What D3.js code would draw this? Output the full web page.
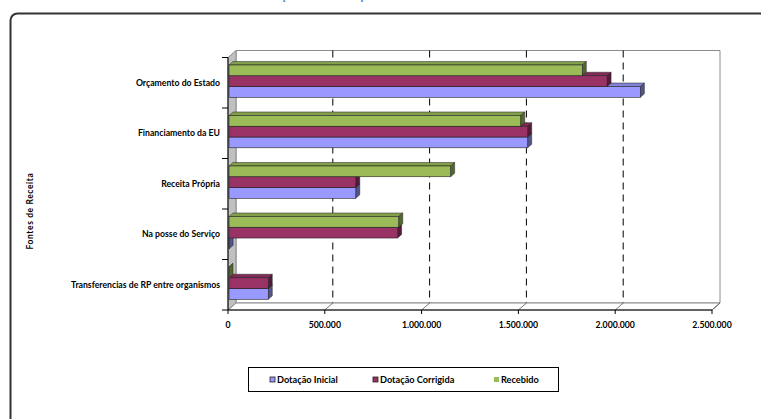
<!DOCTYPE html>
<html>
<head>
<meta charset="utf-8">
<script src="https://cdn.jsdelivr.net/npm/d3@7/dist/d3.min.js"></script>
<style>
  html, body { margin: 0; padding: 0; background: #fff; }
  svg { display: block; font-family: Lato, "Open Sans", sans-serif; }
</style>
</head>
<body>
<svg id="chart" width="761" height="419"></svg>
<script>
// Receita por fonte de financiamento (valores em euros)
const categories = [
  "Orçamento do Estado",
  "Financiamento da EU",
  "Receita Própria",
  "Na posse do Serviço",
  "Transferencias de RP entre organismos"
];
const seriesNames = ["Dotação Inicial", "Dotação Corrigida", "Recebido"];
const dotacaoInicial   = [2130000, 1548000, 660000,   6000, 208000];
const dotacaoCorrigida = [1958000, 1548000, 660000, 876000, 208000];
const recebido         = [1830000, 1512000, 1150000, 882000,  5000];
const xTicks = [0, 500000, 1000000, 1500000, 2000000, 2500000];

const seriesValues = [dotacaoInicial, dotacaoCorrigida, recebido];
const seriesColors = ["#9999FF", "#993366", "#9BBB59"];

const pt = d3.formatLocale({ decimal: ",", thousands: ".", grouping: [3], currency: ["", " €"] });
const fmt = pt.format(",d");

const svg = d3.select("#chart");

// Moldura do gráfico
svg.append("rect")
  .attr("x", 10.5).attr("y", 13.5)
  .attr("width", 760).attr("height", 430)
  .attr("rx", 7)
  .attr("fill", "#fff").attr("stroke", "#333").attr("stroke-width", 2);

// Título (acima da área visível, só a base das letras aparece)
svg.append("text")
  .attr("x", 382).attr("y", -0.4)
  .attr("text-anchor", "middle")
  .attr("font-size", 12).attr("font-weight", "bold")
  .attr("fill", "#4F81BD")
  .text("Execução da Receita por Fontes de Financiamento");

// Escalas
const x = d3.scaleLinear().domain([0, 2500000]).range([228, 712]);
const y = d3.scaleBand().domain(categories).range([57.5, 310]);
const bw = y.bandwidth();
// ordem vertical dentro de cada categoria: Recebido em cima, Dotação Inicial em baixo
const ys = d3.scaleBand().domain(["Recebido", "Dotação Corrigida", "Dotação Inicial"])
  .range([0.148 * bw, 0.788 * bw]);

// profundidade das paredes e das barras
const W = { dx: 8, dy: -7 };
const B = { dx: 4, dy: -3.5 };

const yTop = y.range()[0], yBot = y.range()[1];
const x0 = x(0), x1 = x(2500000);

const g = svg.append("g");
const poly = pts => "M" + pts.map(p => p.join(",")).join("L") + "Z";

// Parede do fundo
g.append("path")
  .attr("d", poly([[x0 + W.dx, yTop + W.dy], [x1 + W.dx, yTop + W.dy], [x1 + W.dx, yBot + W.dy], [x0 + W.dx, yBot + W.dy]]))
  .attr("fill", "#fff").attr("stroke", "#8c8c8c").attr("stroke-width", 1);

// Chão
g.append("path")
  .attr("d", poly([[x0, yBot], [x0 + W.dx, yBot + W.dy], [x1 + W.dx, yBot + W.dy], [x1, yBot]]))
  .attr("fill", "#fff").attr("stroke", "#8c8c8c").attr("stroke-width", 1);

// Parede lateral
g.append("path")
  .attr("d", poly([[x0, yTop], [x0 + W.dx, yTop + W.dy], [x0 + W.dx, yBot + W.dy], [x0, yBot]]))
  .attr("fill", "#c0c0c0").attr("stroke", "#8c8c8c").attr("stroke-width", 1);

// Linhas de grelha (fundo, tracejadas) e no chão (diagonais)
const inner = xTicks.filter(t => t > 0 && t < 2500000);
g.selectAll(".grid").data(inner).join("line")
  .attr("x1", d => x(d) + W.dx).attr("x2", d => x(d) + W.dx)
  .attr("y1", yTop + W.dy).attr("y2", yBot + W.dy)
  .attr("stroke", "#000").attr("stroke-width", 1)
  .attr("stroke-dasharray", "7,5");
g.selectAll(".floorgrid").data(xTicks.filter(t => t > 0)).join("line")
  .attr("x1", d => x(d)).attr("x2", d => x(d) + W.dx)
  .attr("y1", yBot).attr("y2", yBot + W.dy)
  .attr("stroke", "#555").attr("stroke-width", 0.8);

// Barras 3D
function shade(c, k) {
  const col = d3.rgb(c);
  return d3.rgb(col.r * k, col.g * k, col.b * k).toString();
}
const bars = [];
categories.forEach((cat, ci) => {
  seriesNames.forEach((s, si) => {
    bars.push({ cat, s, v: seriesValues[si][ci], color: seriesColors[si] });
  });
});
const barH = ys.bandwidth();
const bg = g.append("g");
bars.forEach(d => {
  const xa = x(0) + 1, xb = x(d.v);
  const yy = y(d.cat) + ys(d.s);
  const grp = bg.append("g");
  grp.append("path")
    .attr("d", poly([[xa, yy], [xa + B.dx, yy + B.dy], [xb + B.dx, yy + B.dy], [xb, yy]]))
    .attr("fill", shade(d.color, 0.85)).attr("stroke", "#222").attr("stroke-width", 0.5);
  grp.append("path")
    .attr("d", poly([[xb, yy], [xb + B.dx, yy + B.dy], [xb + B.dx, yy + barH + B.dy], [xb, yy + barH]]))
    .attr("fill", shade(d.color, 0.55)).attr("stroke", "#222").attr("stroke-width", 0.5);
  grp.append("rect")
    .attr("x", xa).attr("y", yy)
    .attr("width", Math.max(0, xb - xa)).attr("height", barH)
    .attr("fill", d.color).attr("stroke", "#222").attr("stroke-width", 0.6);
});

// Eixo vertical (categorias)
g.append("line").attr("x1", x0).attr("x2", x0).attr("y1", yTop).attr("y2", yBot)
  .attr("stroke", "#000").attr("stroke-width", 1);
const catEdges = categories.map(c => y(c)).concat([yBot]);
g.selectAll(".ytick").data(catEdges).join("line")
  .attr("x1", x0 - 6).attr("x2", x0).attr("y1", d => d).attr("y2", d => d)
  .attr("stroke", "#000").attr("stroke-width", 1);
g.selectAll(".ylab").data(categories).join("text")
  .attr("x", 220).attr("y", d => y(d) + bw / 2)
  .attr("dy", "0.35em").attr("text-anchor", "end")
  .attr("font-size", 8.7).attr("font-weight", "bold").attr("fill", "#000")
  .text(d => d);

// Eixo horizontal (valores)
g.append("line").attr("x1", x0).attr("x2", x1).attr("y1", yBot).attr("y2", yBot)
  .attr("stroke", "#000").attr("stroke-width", 1);
g.selectAll(".xtick").data(xTicks).join("line")
  .attr("x1", d => x(d)).attr("x2", d => x(d)).attr("y1", yBot).attr("y2", yBot + 4)
  .attr("stroke", "#000").attr("stroke-width", 1);
g.selectAll(".xlab").data(xTicks).join("text")
  .attr("x", d => x(d)).attr("y", yBot + 15)
  .attr("dy", "0.35em").attr("text-anchor", "middle")
  .attr("font-size", 8.7).attr("font-weight", "bold").attr("fill", "#000")
  .text(d => fmt(d));

// Título do eixo
svg.append("text")
  .attr("transform", "translate(33,211) rotate(-90)")
  .attr("text-anchor", "middle")
  .attr("font-size", 8.5).attr("font-weight", "bold").attr("fill", "#000")
  .attr("letter-spacing", 0.6)
  .text("Fontes de Receita");

// Legenda
const lg = svg.append("g");
lg.append("rect").attr("x", 248.5).attr("y", 367.5).attr("width", 310).attr("height", 24)
  .attr("fill", "#fff").attr("stroke", "#000").attr("stroke-width", 1);
const legX = [270, 373, 494];
seriesNames.forEach((s, i) => {
  lg.append("rect").attr("x", legX[i]).attr("y", 377).attr("width", 5).attr("height", 5)
    .attr("fill", seriesColors[i]).attr("stroke", i === 2 ? "none" : "#222").attr("stroke-width", 0.8);
  lg.append("text").attr("x", legX[i] + 7).attr("y", 380)
    .attr("dy", "0.35em").attr("font-size", 9.2).attr("font-weight", "bold").attr("fill", "#000")
    .text(s);
});
</script>
</body>
</html>
